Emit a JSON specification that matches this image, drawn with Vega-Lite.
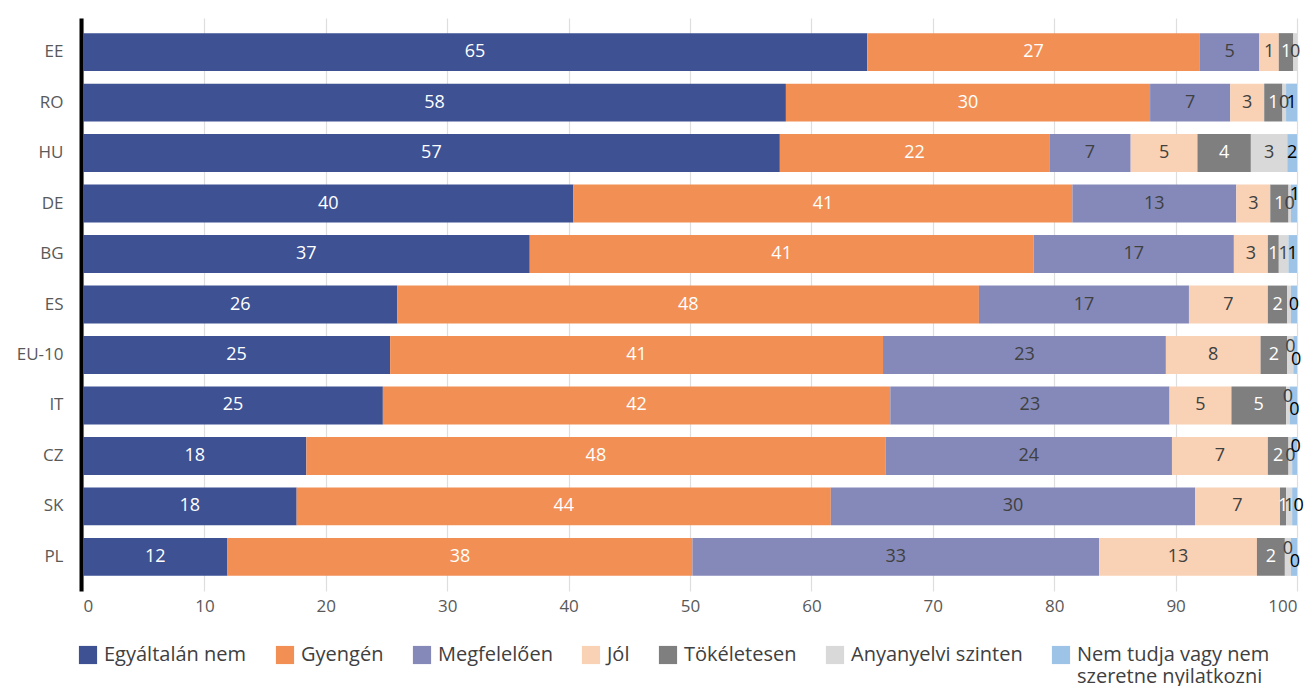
{
  "$schema": "https://vega.github.io/schema/vega-lite/v6.json",
  "width": 1214,
  "height": 573,
  "autosize": {"type": "none"},
  "padding": {"left": 83, "top": 18, "right": 15, "bottom": 95},
  "background": "white",
  "config": {
    "font": "Open Sans",
    "view": {"stroke": null},
    "axis": {"labelFont": "Open Sans", "labelColor": "#595959", "labelFontSize": 17}
  },
  "data": {"values": [
    {"country":"EE","k":1,"cat":"Egyáltalán nem","v":64.6,"label":65},
    {"country":"EE","k":2,"cat":"Gyengén","v":27.4,"label":27},
    {"country":"EE","k":3,"cat":"Megfelelően","v":4.9,"label":5},
    {"country":"EE","k":4,"cat":"Jól","v":1.6,"label":1},
    {"country":"EE","k":5,"cat":"Tökéletesen","v":1.2,"label":1},
    {"country":"EE","k":6,"cat":"Anyanyelvi szinten","v":0.3,"label":0},
    {"country":"RO","k":1,"cat":"Egyáltalán nem","v":57.9,"label":58},
    {"country":"RO","k":2,"cat":"Gyengén","v":30.0,"label":30},
    {"country":"RO","k":3,"cat":"Megfelelően","v":6.6,"label":7},
    {"country":"RO","k":4,"cat":"Jól","v":2.8,"label":3},
    {"country":"RO","k":5,"cat":"Tökéletesen","v":1.5,"label":1},
    {"country":"RO","k":6,"cat":"Anyanyelvi szinten","v":0.3,"label":0},
    {"country":"RO","k":7,"cat":"Nem tudja vagy nem szeretne nyilatkozni","v":0.9,"label":1},
    {"country":"HU","k":1,"cat":"Egyáltalán nem","v":57.4,"label":57},
    {"country":"HU","k":2,"cat":"Gyengén","v":22.2,"label":22},
    {"country":"HU","k":3,"cat":"Megfelelően","v":6.7,"label":7},
    {"country":"HU","k":4,"cat":"Jól","v":5.5,"label":5},
    {"country":"HU","k":5,"cat":"Tökéletesen","v":4.4,"label":4},
    {"country":"HU","k":6,"cat":"Anyanyelvi szinten","v":3.0,"label":3},
    {"country":"HU","k":7,"cat":"Nem tudja vagy nem szeretne nyilatkozni","v":0.8,"label":2},
    {"country":"DE","k":1,"cat":"Egyáltalán nem","v":40.4,"label":40},
    {"country":"DE","k":2,"cat":"Gyengén","v":41.1,"label":41},
    {"country":"DE","k":3,"cat":"Megfelelően","v":13.5,"label":13},
    {"country":"DE","k":4,"cat":"Jól","v":2.8,"label":3},
    {"country":"DE","k":5,"cat":"Tökéletesen","v":1.5,"label":1},
    {"country":"DE","k":6,"cat":"Anyanyelvi szinten","v":0.2,"label":0},
    {"country":"DE","k":7,"cat":"Nem tudja vagy nem szeretne nyilatkozni","v":0.5,"label":1},
    {"country":"BG","k":1,"cat":"Egyáltalán nem","v":36.8,"label":37},
    {"country":"BG","k":2,"cat":"Gyengén","v":41.5,"label":41},
    {"country":"BG","k":3,"cat":"Megfelelően","v":16.5,"label":17},
    {"country":"BG","k":4,"cat":"Jól","v":2.8,"label":3},
    {"country":"BG","k":5,"cat":"Tökéletesen","v":0.9,"label":1},
    {"country":"BG","k":6,"cat":"Anyanyelvi szinten","v":0.8,"label":1},
    {"country":"BG","k":7,"cat":"Nem tudja vagy nem szeretne nyilatkozni","v":0.7,"label":1},
    {"country":"ES","k":1,"cat":"Egyáltalán nem","v":25.9,"label":26},
    {"country":"ES","k":2,"cat":"Gyengén","v":47.9,"label":48},
    {"country":"ES","k":3,"cat":"Megfelelően","v":17.3,"label":17},
    {"country":"ES","k":4,"cat":"Jól","v":6.5,"label":7},
    {"country":"ES","k":5,"cat":"Tökéletesen","v":1.6,"label":2},
    {"country":"ES","k":6,"cat":"Anyanyelvi szinten","v":0.3,"label":null},
    {"country":"ES","k":7,"cat":"Nem tudja vagy nem szeretne nyilatkozni","v":0.5,"label":0},
    {"country":"EU-10","k":1,"cat":"Egyáltalán nem","v":25.3,"label":25},
    {"country":"EU-10","k":2,"cat":"Gyengén","v":40.6,"label":41},
    {"country":"EU-10","k":3,"cat":"Megfelelően","v":23.3,"label":23},
    {"country":"EU-10","k":4,"cat":"Jól","v":7.8,"label":8},
    {"country":"EU-10","k":5,"cat":"Tökéletesen","v":2.2,"label":2},
    {"country":"EU-10","k":6,"cat":"Anyanyelvi szinten","v":0.5,"label":0},
    {"country":"EU-10","k":7,"cat":"Nem tudja vagy nem szeretne nyilatkozni","v":0.3,"label":0},
    {"country":"IT","k":1,"cat":"Egyáltalán nem","v":24.7,"label":25},
    {"country":"IT","k":2,"cat":"Gyengén","v":41.8,"label":42},
    {"country":"IT","k":3,"cat":"Megfelelően","v":23.0,"label":23},
    {"country":"IT","k":4,"cat":"Jól","v":5.1,"label":5},
    {"country":"IT","k":5,"cat":"Tökéletesen","v":4.5,"label":5},
    {"country":"IT","k":6,"cat":"Anyanyelvi szinten","v":0.3,"label":0},
    {"country":"IT","k":7,"cat":"Nem tudja vagy nem szeretne nyilatkozni","v":0.6,"label":0},
    {"country":"CZ","k":1,"cat":"Egyáltalán nem","v":18.4,"label":18},
    {"country":"CZ","k":2,"cat":"Gyengén","v":47.7,"label":48},
    {"country":"CZ","k":3,"cat":"Megfelelően","v":23.6,"label":24},
    {"country":"CZ","k":4,"cat":"Jól","v":7.9,"label":7},
    {"country":"CZ","k":5,"cat":"Tökéletesen","v":1.7,"label":2},
    {"country":"CZ","k":6,"cat":"Anyanyelvi szinten","v":0.3,"label":0},
    {"country":"CZ","k":7,"cat":"Nem tudja vagy nem szeretne nyilatkozni","v":0.4,"label":0},
    {"country":"SK","k":1,"cat":"Egyáltalán nem","v":17.6,"label":18},
    {"country":"SK","k":2,"cat":"Gyengén","v":44.0,"label":44},
    {"country":"SK","k":3,"cat":"Megfelelően","v":30.0,"label":30},
    {"country":"SK","k":4,"cat":"Jól","v":7.0,"label":7},
    {"country":"SK","k":5,"cat":"Tökéletesen","v":0.5,"label":1},
    {"country":"SK","k":6,"cat":"Anyanyelvi szinten","v":0.5,"label":1},
    {"country":"SK","k":7,"cat":"Nem tudja vagy nem szeretne nyilatkozni","v":0.4,"label":0},
    {"country":"PL","k":1,"cat":"Egyáltalán nem","v":11.9,"label":12},
    {"country":"PL","k":2,"cat":"Gyengén","v":38.3,"label":38},
    {"country":"PL","k":3,"cat":"Megfelelően","v":33.5,"label":33},
    {"country":"PL","k":4,"cat":"Jól","v":13.0,"label":13},
    {"country":"PL","k":5,"cat":"Tökéletesen","v":2.3,"label":2},
    {"country":"PL","k":6,"cat":"Anyanyelvi szinten","v":0.5,"label":0},
    {"country":"PL","k":7,"cat":"Nem tudja vagy nem szeretne nyilatkozni","v":0.5,"label":0}
  ]},
  "transform": [
    {"stack": "v", "groupby": ["country"], "sort": [{"field": "k", "order": "ascending"}], "as": ["x0", "x1"]},
    {"calculate": "(datum.x0 + datum.x1) / 2", "as": "mid"}
  ],
  "encoding": {
    "y": {
      "field": "country", "type": "nominal",
      "sort": ["EE","RO","HU","DE","BG","ES","EU-10","IT","CZ","SK","PL"],
      "scale": {"paddingInner": 0.25, "paddingOuter": 0.3},
      "axis": {"title": null, "ticks": false, "domain": true, "domainColor": "#000000", "domainWidth": 4, "labelPadding": 18, "offset": 2}
    }
  },
  "layer": [
    {
      "mark": {"type": "bar"},
      "encoding": {
        "x": {
          "field": "x0", "type": "quantitative",
          "scale": {"domain": [0, 100], "nice": false},
          "axis": {"title": null, "values": [0,10,20,30,40,50,60,70,80,90,100], "ticks": false, "domain": false, "grid": true, "gridColor": "#dedede", "gridWidth": 1.2, "labelPadding": 7}
        },
        "x2": {"field": "x1"},
        "color": {
          "field": "cat", "type": "nominal",
          "scale": {
            "domain": ["Egyáltalán nem","Gyengén","Megfelelően","Jól","Tökéletesen","Anyanyelvi szinten","Nem tudja vagy nem szeretne nyilatkozni"],
            "range": ["#3d5193","#f28f55","#8489b9","#f9d1b5","#7f7f7f","#d9d9d9","#9dc3e6"]
          },
          "legend": {
            "title": null, "orient": "none", "legendX": -5, "legendY": 627,
            "direction": "horizontal", "columns": 7, "gridAlign": "none",
            "symbolType": "square", "symbolSize": 330, "symbolStrokeWidth": 0,
            "labelFont": "Open Sans", "labelFontSize": 20, "labelColor": "#404040",
            "labelOffset": 6, "columnPadding": 28, "labelLimit": 400,
            "labelExpr": "datum.label == 'Nem tudja vagy nem szeretne nyilatkozni' ? ['Nem tudja vagy nem', 'szeretne nyilatkozni'] : datum.label"
          }
        }
      }
    },
    {
      "transform": [{"filter": "datum.label != null && (datum.k <= 5 || (datum.k == 6 && indexof(['EU-10','IT','PL'], datum.country) < 0) || (datum.k == 7 && indexof(['EU-10','IT','PL','CZ','DE','SK'], datum.country) < 0))"}],
      "mark": {"type": "text", "fontSize": 18, "font": "Open Sans"},
      "encoding": {
        "x": {"field": "mid", "type": "quantitative"},
        "text": {"field": "label", "type": "quantitative"},
        "color": {
          "condition": [
            {"test": "datum.k == 1 || datum.k == 2 || datum.k == 5", "value": "#ffffff"},
            {"test": "datum.k == 7", "value": "#000000"}
          ],
          "value": "#404040"
        }
      }
    },
    {
      "transform": [{"filter": "datum.k == 6 && indexof(['EU-10','IT','PL'], datum.country) >= 0"}],
      "mark": {"type": "text", "fontSize": 18, "font": "Open Sans", "dy": -8, "color": "#404040"},
      "encoding": {
        "x": {"field": "mid", "type": "quantitative"},
        "text": {"field": "label", "type": "quantitative"}
      }
    },
    {
      "transform": [{"filter": "datum.k == 7 && indexof(['EU-10','IT','PL'], datum.country) >= 0"}],
      "mark": {"type": "text", "fontSize": 18, "font": "Open Sans", "dy": 5, "dx": 1, "color": "#000000"},
      "encoding": {
        "x": {"field": "mid", "type": "quantitative"},
        "text": {"field": "label", "type": "quantitative"}
      }
    },
    {
      "transform": [{"filter": "datum.k == 7 && indexof(['CZ','DE'], datum.country) >= 0"}],
      "mark": {"type": "text", "fontSize": 18, "font": "Open Sans", "dy": -9, "dx": 1, "color": "#000000"},
      "encoding": {
        "x": {"field": "mid", "type": "quantitative"},
        "text": {"field": "label", "type": "quantitative"}
      }
    },
    {
      "transform": [{"filter": "datum.k == 7 && datum.country == 'SK'"}],
      "mark": {"type": "text", "fontSize": 18, "font": "Open Sans", "dx": 4, "color": "#000000"},
      "encoding": {
        "x": {"field": "mid", "type": "quantitative"},
        "text": {"field": "label", "type": "quantitative"}
      }
    }
  ]
}
